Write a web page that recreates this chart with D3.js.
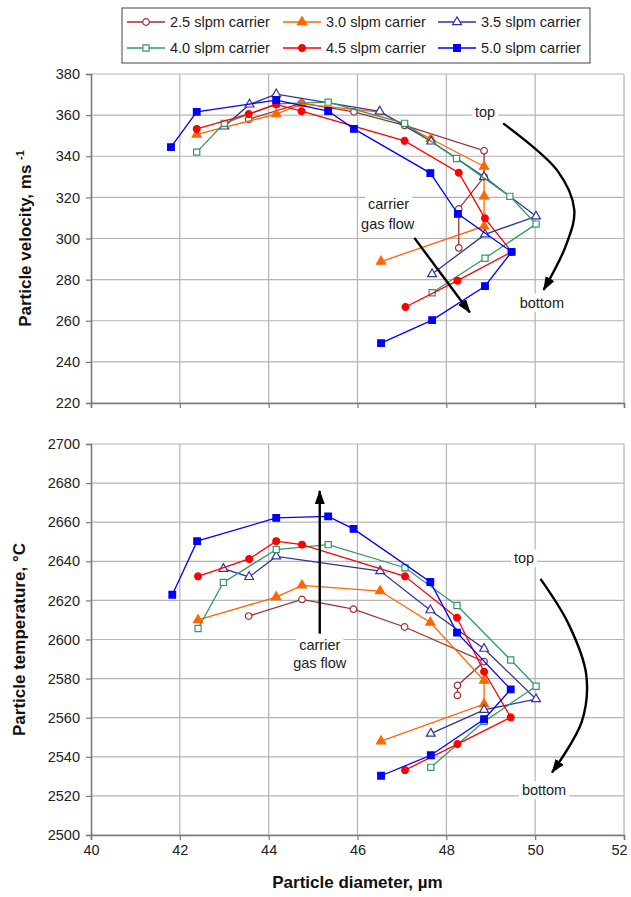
<!DOCTYPE html>
<html>
<head>
<meta charset="utf-8">
<script src="https://cdn.jsdelivr.net/npm/d3@7"></script>
<style>
  body { margin: 0; background: #fff; }
  text { font-family: "Liberation Sans", Arial, sans-serif; }
</style>
</head>
<body>
<div id="chart"></div>
<script>
// ---- data (diameter in um, velocity in m/s, temperature in C) ----
const seriesNames = ["2.5 slpm carrier", "3.0 slpm carrier", "3.5 slpm carrier",
                     "4.0 slpm carrier", "4.5 slpm carrier", "5.0 slpm carrier"];

// velocity panel
const velDiam25 = [43.55, 44.74, 45.92, 47.06, 48.85, 48.85, 48.28, 48.28];
const vel25     = [358, 365.8, 361.6, 355, 342.7, 330, 314.4, 295.4];
const velDiam30 = [42.38, 44.17, 44.74, 46.5, 47.65, 48.85, 48.85, 48.85, 46.53];
const vel30     = [350.6, 360.5, 365.5, 361.5, 348.5, 335, 320.5, 306, 288.8];
const velDiam35 = [43.0, 43.57, 44.17, 46.5, 47.66, 48.85, 50.02, 48.87, 47.68];
const vel35     = [354.5, 365.2, 370.2, 361.8, 347.2, 330, 310.8, 302, 282.7];
const velDiam40 = [42.38, 43.0, 44.17, 45.34, 47.06, 48.23, 49.43, 50.02, 48.87, 47.68];
const vel40     = [342, 356, 365.5, 366.3, 356, 338.9, 320.5, 307, 290.4, 273.6];
const velDiam45 = [42.38, 43.55, 44.17, 44.74, 47.06, 48.28, 48.87, 49.47, 48.25, 47.08];
const vel45     = [353.3, 360.5, 365.2, 361.9, 347.5, 332, 309.8, 293.5, 279.5, 266.7];
const velDiam50 = [41.8, 42.38, 44.17, 45.34, 45.92, 47.64, 48.26, 49.47, 48.87, 47.68, 46.53];
const vel50     = [344.4, 361.6, 367.3, 362, 353.3, 331.8, 312, 293.5, 276.8, 260.3, 249.1];

// temperature panel
const tmpDiam25 = [43.55, 44.75, 45.91, 47.06, 48.85, 48.25, 48.25];
const tmp25     = [2612, 2620.5, 2615.5, 2606.4, 2588.7, 2576.5, 2571.4];
const tmpDiam30 = [42.41, 44.17, 44.75, 46.51, 47.64, 48.85, 48.85, 46.53];
const tmp30     = [2610, 2621.7, 2627.7, 2624.8, 2608.7, 2579, 2567, 2548];
const tmpDiam35 = [42.98, 43.56, 44.17, 46.51, 47.64, 48.85, 50.02, 48.85, 47.65];
const tmp35     = [2636.2, 2632, 2642.5, 2635, 2615, 2595.3, 2569.5, 2564, 2551.9];
const tmpDiam40 = [42.41, 42.98, 44.17, 45.34, 47.07, 48.24, 49.45, 50.02, 48.85, 47.65];
const tmp40     = [2605.6, 2629.2, 2646, 2648.5, 2636.7, 2617.4, 2589.5, 2576.1, 2558, 2534.6];
const tmpDiam45 = [42.41, 43.56, 44.17, 44.75, 47.07, 48.24, 48.85, 49.45, 48.25, 47.07];
const tmp45     = [2632.3, 2641.2, 2650.3, 2648.5, 2632.3, 2611.1, 2583.5, 2560.2, 2546.5, 2533.2];
const tmpDiam50 = [41.83, 42.39, 44.17, 45.34, 45.91, 47.64, 48.24, 49.45, 48.85, 47.65, 46.53];
const tmp50     = [2622.9, 2650.3, 2662.2, 2663, 2656.6, 2629.4, 2603.5, 2574.5, 2559.2, 2540.8, 2530.3];

// axis ticks
const diamTicks = [40, 42, 44, 46, 48, 50, 52];
const velTicks  = [220, 240, 260, 280, 300, 320, 340, 360, 380];
const tmpTicks  = [2500, 2520, 2540, 2560, 2580, 2600, 2620, 2640, 2660, 2680, 2700];

// annotation paths (data coordinates)
const velCurve  = [[49.28, 356], [50.5, 333], [50.88, 314], [50.7, 297], [50.19, 275]];
const velFlow   = [[47.28, 300.3], [48.53, 264]];
const tmpCurve  = [[50.12, 2631], [50.75, 2608], [51.15, 2582], [51.05, 2558], [50.38, 2532]];
const tmpFlow   = [[45.15, 2603], [45.15, 2676]];

// ---- styling ----
const colors  = ["#993333", "#FF6600", "#333399", "#339966", "#FF0000", "#0000FF"];
const symbols = [d3.symbolCircle, d3.symbolTriangle, d3.symbolTriangle, d3.symbolSquare, d3.symbolCircle, d3.symbolSquare];
const symSize = [34, 36, 34, 38, 36, 44];
const filled  = [false, true, false, false, true, true];

const velSeries = [[velDiam25, vel25], [velDiam30, vel30], [velDiam35, vel35],
                   [velDiam40, vel40], [velDiam45, vel45], [velDiam50, vel50]];
const tmpSeries = [[tmpDiam25, tmp25], [tmpDiam30, tmp30], [tmpDiam35, tmp35],
                   [tmpDiam40, tmp40], [tmpDiam45, tmp45], [tmpDiam50, tmp50]];

const W = 631, H = 897;
const left = 91, right = 624;

const svg = d3.select("#chart").append("svg").attr("width", W).attr("height", H);

svg.append("defs").append("marker")
    .attr("id", "arrow").attr("markerUnits", "userSpaceOnUse")
    .attr("viewBox", "0 0 14 10").attr("markerWidth", 14).attr("markerHeight", 10)
    .attr("refX", 13).attr("refY", 5).attr("orient", "auto")
    .append("path").attr("d", "M0,0 L14,5 L0,10 Z").attr("fill", "#000");

const x = d3.scaleLinear().domain([40, 52]).range([left, right]);
const yV = d3.scaleLinear().domain([220, 380]).range([403, 74]);
const yT = d3.scaleLinear().domain([2500, 2700]).range([835, 444]);

function drawPanel(y, yTicks, series, showXLabels) {
    const g = svg.append("g");
    const [y0, y1] = y.range();

    // grid
    g.selectAll(".hgrid").data(yTicks).enter().append("line")
        .attr("x1", left).attr("x2", right)
        .attr("y1", d => y(d)).attr("y2", d => y(d))
        .attr("stroke", "#b4b4b4").attr("stroke-width", 1.2);
    g.selectAll(".vgrid").data(diamTicks.slice(1)).enter().append("line")
        .attr("x1", d => x(d)).attr("x2", d => x(d))
        .attr("y1", y0).attr("y2", y1)
        .attr("stroke", "#b4b4b4").attr("stroke-width", 1.2);

    // axes
    const yAxis = g.append("g").attr("transform", `translate(${left},0)`)
        .call(d3.axisLeft(y).tickValues(yTicks).tickSize(5).tickPadding(6).tickFormat(d3.format("d")));
    const xAxis = g.append("g").attr("transform", `translate(0,${y0})`)
        .call(d3.axisBottom(x).tickValues(diamTicks).tickSize(5).tickPadding(5)
            .tickFormat(showXLabels ? d3.format("d") : () => ""));
    [yAxis, xAxis].forEach(a => {
        a.select(".domain").attr("stroke", "#7a7a7a").attr("stroke-width", 1.6);
        a.selectAll(".tick line").attr("stroke", "#7a7a7a").attr("stroke-width", 1.2);
        a.selectAll(".tick text").attr("fill", "#222").style("font-size", "14.5px")
            .style("font-family", "'Liberation Sans', Arial, sans-serif");
    });
    // keep the last diameter label inside the page
    xAxis.selectAll(".tick text").filter(d => d === 52).attr("dx", -5);
    return g;
}

function label(g, txt, px, py) {
    const t = g.append("text").attr("x", px).attr("y", py).attr("text-anchor", "middle")
        .attr("dominant-baseline", "central").attr("fill", "#222").style("font-size", "14.5px").text(txt);
    const b = t.node().getBBox();
    g.insert("rect", () => t.node()).attr("x", b.x - 3).attr("y", b.y - 1)
        .attr("width", b.width + 6).attr("height", b.height + 2).attr("fill", "#fff");
}

function drawSeries(g, y, series) {
    series.forEach(([ds, vs], i) => {
        const pts = ds.map((d, k) => [d, vs[k]]);
        g.append("path").datum(pts)
            .attr("fill", "none").attr("stroke", colors[i]).attr("stroke-width", 1.3)
            .attr("d", d3.line().x(p => x(p[0])).y(p => y(p[1])));
        g.selectAll(".m" + i).data(pts).enter().append("path")
            .attr("transform", p => `translate(${x(p[0])},${y(p[1])})`)
            .attr("d", d3.symbol().type(symbols[i]).size(symSize[i]))
            .attr("fill", filled[i] ? colors[i] : "#fff")
            .attr("stroke", colors[i]).attr("stroke-width", 1.2);
    });
}

function arrow(g, y, pts, curve) {
    g.append("path").datum(pts)
        .attr("fill", "none").attr("stroke", "#000").attr("stroke-width", 2.4)
        .attr("marker-end", "url(#arrow)")
        .attr("d", d3.line().x(p => x(p[0])).y(p => y(p[1])).curve(curve));
}

// ---- top panel: velocity ----
const gV = drawPanel(yV, velTicks, velSeries, false);
label(gV, "top", x(48.87), yV(361.5));
label(gV, "bottom", x(50.15), yV(268.8));
label(gV, "carrier", x(46.7), yV(317));
label(gV, "gas flow", x(46.68), yV(307.2));
drawSeries(gV, yV, velSeries);
arrow(gV, yV, velCurve, d3.curveCatmullRom);
arrow(gV, yV, velFlow, d3.curveLinear);

// ---- bottom panel: temperature ----
const gT = drawPanel(yT, tmpTicks, tmpSeries, true);
label(gT, "top", x(49.75), yT(2641.5));
label(gT, "bottom", x(50.2), yT(2523));
label(gT, "carrier", x(45.15), yT(2597));
label(gT, "gas flow", x(45.15), yT(2588));
drawSeries(gT, yT, tmpSeries);
arrow(gT, yT, tmpCurve, d3.curveCatmullRom);
arrow(gT, yT, tmpFlow, d3.curveLinear);

// ---- axis titles ----
const vt = svg.append("text").attr("transform", `translate(31,${(74 + 403) / 2}) rotate(-90)`)
    .attr("text-anchor", "middle").attr("fill", "#111")
    .style("font-size", "17px").style("font-weight", "bold");
vt.append("tspan").text("Particle velocity, ms ");
vt.append("tspan").attr("dy", -7).style("font-size", "11px").text("-1");

svg.append("text").attr("transform", `translate(25,${(444 + 835) / 2}) rotate(-90)`)
    .attr("text-anchor", "middle").attr("fill", "#111")
    .style("font-size", "17px").style("font-weight", "bold")
    .text("Particle temperature, \u00B0C");

svg.append("text").attr("x", (left + right) / 2).attr("y", 888)
    .attr("text-anchor", "middle").attr("fill", "#111")
    .style("font-size", "17px").style("font-weight", "bold")
    .text("Particle diameter, \u00B5m");

// ---- legend ----
const lg = svg.append("g");
lg.append("rect").attr("x", 122).attr("y", 8).attr("width", 468).attr("height", 55)
    .attr("fill", "#fff").attr("stroke", "#444").attr("stroke-width", 1);
const colX = [127, 283, 438];
const rowY = [22, 48];
seriesNames.forEach((name, i) => {
    const cx = colX[i % 3], cy = rowY[Math.floor(i / 3)];
    const e = lg.append("g").attr("transform", `translate(${cx},${cy})`);
    e.append("line").attr("x1", 0).attr("x2", 38).attr("stroke", colors[i]).attr("stroke-width", 1.3);
    e.append("path").attr("transform", "translate(19,0)")
        .attr("d", d3.symbol().type(symbols[i]).size(symSize[i]))
        .attr("fill", filled[i] ? colors[i] : "#fff")
        .attr("stroke", colors[i]).attr("stroke-width", 1.2);
    e.append("text").attr("x", 43).attr("y", 5).attr("fill", "#222")
        .style("font-size", "14.5px").text(name);
});
</script>
</body>
</html>
